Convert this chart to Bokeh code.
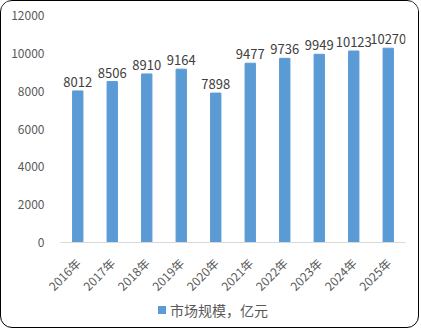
from bokeh.plotting import figure
from bokeh.models import ColumnDataSource, Range1d, FixedTicker, Div
from bokeh.layouts import column
from bokeh.embed import file_html
from bokeh.resources import INLINE
from bokeh.core.properties import value
import math

years = ["2016年", "2017年", "2018年", "2019年", "2020年", "2021年", "2022年", "2023年", "2024年", "2025年"]
market = [8012, 8506, 8910, 9164, 7898, 9477, 9736, 9949, 10123, 10270]
y_ticks = [0, 2000, 4000, 6000, 8000, 10000, 12000]
series_name = "市场规模，亿元"

FONT = "Noto Sans CJK SC"
BAR = "#5B9BD5"

src = ColumnDataSource(dict(x=years, y=market, lbl=[str(v) for v in market]))

p = figure(x_range=years, width=419, height=301, output_backend="svg", toolbar_location=None,
           min_border_left=59, min_border_right=13, min_border_top=14, min_border_bottom=60)
p.y_range = Range1d(0, 12000)
p.outline_line_color = None
p.background_fill_color = "white"
p.border_fill_color = "white"

r = p.vbar(x="x", top="y", width=0.3, source=src, color=BAR)
p.text(x="x", y="y", text="lbl", source=src, text_align="center", text_baseline="bottom",
       y_offset=-4, text_font=value(FONT), text_font_size="13px", text_color="#404040")

p.xgrid.grid_line_color = None
p.ygrid.grid_line_color = None

p.yaxis.ticker = FixedTicker(ticks=y_ticks)
p.yaxis.axis_line_color = None
p.yaxis.major_tick_line_color = None
p.yaxis.minor_tick_line_color = None
p.yaxis.major_tick_out = 0
p.yaxis.major_label_standoff = 16
p.yaxis.major_label_text_font = FONT
p.yaxis.major_label_text_font_size = "12px"
p.yaxis.major_label_text_color = "#595959"

p.xaxis.axis_line_color = "#D9D9D9"
p.xaxis.major_tick_line_color = None
p.xaxis.major_tick_out = 0
p.xaxis.major_label_orientation = math.pi / 4
p.xaxis.major_label_standoff = 18
p.xaxis.major_label_text_font = FONT
p.xaxis.major_label_text_font_size = "12px"
p.xaxis.major_label_text_color = "#595959"

legend_html = (
    f"<div style=\"position:relative;width:419px;height:27px;font-family:'{FONT}';"
    f"font-size:14px;color:#595959;\">"
    f"<span style=\"position:absolute;left:157px;top:4px;width:8px;height:8px;background:{BAR};\"></span>"
    f"<span style=\"position:absolute;left:169px;top:0px;line-height:16px;white-space:nowrap;\">{series_name}</span>"
    f"</div>"
)
legend = Div(text=legend_html, width=419, height=27, margin=0)

layout = column(p, legend, width=419, height=328, spacing=0)
layout.styles = {"border": "1px solid #000000", "border-radius": "12px", "overflow": "hidden",
                 "background": "white"}

open("out.html", "w").write(file_html(layout, INLINE))
